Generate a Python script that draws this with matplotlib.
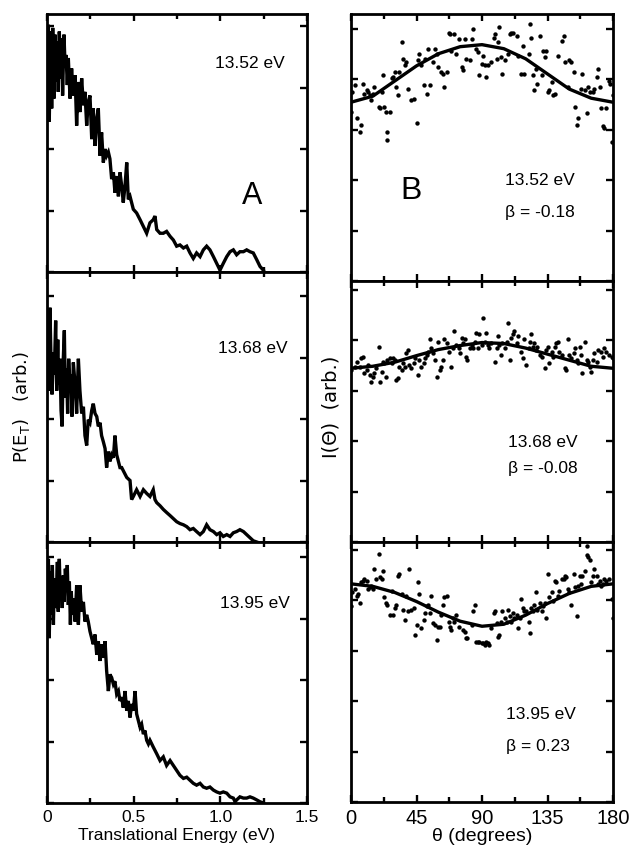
import matplotlib
matplotlib.use("Agg")
import matplotlib.pyplot as plt
from matplotlib.ticker import MultipleLocator, NullFormatter

OUT_PNG = "out.png"

NARROW = ["Liberation Sans", "DejaVu Sans"]

# ---- P(E_T) curves (translational energy in eV, arb. units) ----
e_1352 = [0.002, 0.008, 0.013, 0.021, 0.027, 0.033, 0.040, 0.046, 0.052, 0.060,
          0.065, 0.071, 0.079, 0.085, 0.090, 0.098, 0.104, 0.110, 0.117, 0.123,
          0.133, 0.142, 0.152, 0.162, 0.171, 0.181, 0.190, 0.200, 0.210, 0.219,
          0.229, 0.238, 0.248, 0.258, 0.267, 0.277, 0.287, 0.296, 0.306, 0.315,
          0.325, 0.335, 0.344, 0.354, 0.363, 0.373, 0.383, 0.392, 0.402, 0.412,
          0.421, 0.431, 0.440, 0.450, 0.460, 0.469, 0.479, 0.488, 0.498, 0.517,
          0.537, 0.556, 0.575, 0.594, 0.613, 0.623, 0.633, 0.652, 0.671, 0.690,
          0.710, 0.729, 0.748, 0.767, 0.787, 0.806, 0.825, 0.844, 0.863, 0.883,
          0.902, 0.921, 0.940, 0.960, 0.979, 0.998, 1.017, 1.037, 1.056, 1.075,
          1.094, 1.113, 1.133, 1.152, 1.171, 1.190, 1.210, 1.229, 1.248]
p_1352 = [3.04, 4.02, 2.44, 3.91, 2.66, 3.97, 2.82, 3.86, 3.09, 3.75,
          2.93, 3.91, 3.15, 3.80, 2.87, 3.86, 3.37, 3.53, 3.04, 3.48,
          2.82, 3.31, 2.87, 3.20, 2.38, 3.09, 2.60, 3.15, 2.71, 2.93,
          2.38, 2.77, 2.87, 2.16, 2.66, 2.05, 2.49, 2.66, 1.89, 2.27,
          1.78, 2.00, 1.89, 1.95, 1.84, 1.51, 1.62, 1.29, 1.56, 1.23,
          1.62, 1.40, 1.13, 1.40, 1.78, 1.18, 1.23, 1.13, 1.02, 0.96,
          0.85, 0.74, 0.63, 0.80, 0.85, 0.91, 0.69, 0.63, 0.63, 0.66,
          0.58, 0.52, 0.42, 0.44, 0.39, 0.42, 0.31, 0.22, 0.31, 0.25,
          0.36, 0.42, 0.36, 0.25, 0.14, 0.03, 0.14, 0.25, 0.33, 0.36,
          0.28, 0.33, 0.33, 0.36, 0.33, 0.31, 0.20, 0.09, 0.03]

e_1368 = [0.002, 0.008, 0.013, 0.017, 0.023, 0.029, 0.037, 0.042, 0.050, 0.056,
          0.062, 0.067, 0.075, 0.081, 0.087, 0.094, 0.100, 0.106, 0.113, 0.119,
          0.125, 0.133, 0.138, 0.144, 0.152, 0.162, 0.171, 0.181, 0.190, 0.200,
          0.210, 0.219, 0.229, 0.238, 0.248, 0.258, 0.267, 0.277, 0.287, 0.296,
          0.306, 0.315, 0.325, 0.335, 0.344, 0.354, 0.363, 0.373, 0.383, 0.392,
          0.402, 0.412, 0.421, 0.431, 0.440, 0.460, 0.479, 0.488, 0.498, 0.517,
          0.537, 0.556, 0.575, 0.594, 0.613, 0.623, 0.633, 0.652, 0.671, 0.690,
          0.710, 0.729, 0.748, 0.767, 0.787, 0.806, 0.825, 0.844, 0.863, 0.883,
          0.902, 0.921, 0.940, 0.960, 0.979, 0.998, 1.017, 1.037, 1.056, 1.075,
          1.094, 1.113, 1.133, 1.152, 1.171, 1.190, 1.210]
p_1368 = [3.29, 3.70, 2.46, 3.81, 2.98, 2.40, 3.08, 2.72, 3.60, 2.46,
          3.29, 2.56, 2.98, 2.14, 1.88, 2.98, 3.44, 2.35, 2.82, 2.09,
          2.98, 2.51, 2.72, 2.04, 2.92, 2.56, 2.09, 2.98, 2.46, 2.09,
          2.20, 1.73, 1.57, 1.99, 1.94, 2.14, 2.25, 2.09, 2.04, 1.88,
          1.94, 1.73, 1.63, 1.52, 1.21, 1.47, 1.31, 1.42, 1.37, 1.73,
          1.42, 1.31, 1.21, 1.21, 1.16, 1.05, 1.00, 0.69, 0.74, 0.85,
          0.74, 0.85, 0.79, 0.74, 0.85, 0.69, 0.64, 0.59, 0.53, 0.48,
          0.43, 0.38, 0.33, 0.30, 0.28, 0.25, 0.20, 0.22, 0.17, 0.12,
          0.17, 0.28, 0.20, 0.17, 0.12, 0.15, 0.09, 0.12, 0.09, 0.15,
          0.17, 0.20, 0.17, 0.12, 0.07, 0.02, 0.00]

e_1395 = [0.002, 0.008, 0.013, 0.019, 0.025, 0.031, 0.037, 0.042, 0.048, 0.054,
          0.060, 0.065, 0.071, 0.077, 0.083, 0.088, 0.094, 0.100, 0.106, 0.112,
          0.117, 0.123, 0.129, 0.135, 0.140, 0.146, 0.152, 0.162, 0.171, 0.181,
          0.190, 0.200, 0.210, 0.219, 0.229, 0.238, 0.248, 0.258, 0.267, 0.277,
          0.287, 0.296, 0.306, 0.315, 0.325, 0.335, 0.344, 0.354, 0.363, 0.373,
          0.383, 0.392, 0.402, 0.412, 0.421, 0.431, 0.440, 0.450, 0.460, 0.469,
          0.479, 0.488, 0.498, 0.508, 0.517, 0.527, 0.537, 0.546, 0.556, 0.565,
          0.575, 0.585, 0.594, 0.613, 0.633, 0.652, 0.671, 0.690, 0.710, 0.729,
          0.748, 0.767, 0.787, 0.806, 0.825, 0.844, 0.863, 0.883, 0.902, 0.921,
          0.940, 0.960, 0.979, 0.998, 1.017, 1.037, 1.056, 1.075, 1.085, 1.094,
          1.113, 1.133, 1.152, 1.171, 1.190, 1.210, 1.229, 1.248]
p_1395 = [3.17, 3.97, 2.68, 3.76, 3.06, 3.87, 2.90, 3.65, 3.17, 3.44,
          3.92, 3.11, 3.97, 3.33, 3.60, 3.17, 3.70, 3.27, 3.81, 3.44,
          3.87, 3.22, 3.60, 2.90, 3.44, 3.06, 3.33, 2.95, 3.54, 2.90,
          3.54, 3.11, 3.27, 2.95, 3.06, 2.95, 2.79, 2.68, 2.58, 2.74,
          2.41, 2.63, 2.31, 2.58, 2.36, 2.63, 2.15, 1.82, 2.09, 2.04,
          1.93, 1.98, 1.77, 1.82, 1.66, 1.72, 1.55, 1.82, 1.50, 1.66,
          1.39, 1.61, 1.50, 1.82, 1.45, 1.34, 1.23, 1.28, 1.12, 1.18,
          1.02, 0.96, 1.02, 0.91, 0.80, 0.69, 0.75, 0.61, 0.69, 0.61,
          0.53, 0.45, 0.40, 0.42, 0.37, 0.32, 0.29, 0.32, 0.26, 0.24,
          0.26, 0.21, 0.18, 0.16, 0.18, 0.16, 0.10, 0.08, 0.02, 0.05,
          0.10, 0.08, 0.08, 0.10, 0.08, 0.05, 0.02, 0.00]

# ---- angular distributions I(theta) ----
th_1352 = [0, 1, 3, 4, 6, 7, 8, 9, 11, 12, 13, 14, 15, 16, 19, 20, 21, 22, 23, 24,
           25, 25, 27, 28, 29, 30, 31, 32, 33, 35, 36, 37, 38, 39, 41, 43, 45, 46, 47, 48,
           50, 51, 52, 53, 54, 56, 58, 59, 60, 62, 63, 64, 66, 67, 68, 69, 71, 72, 74, 76,
           77, 78, 79, 82, 83, 84, 86, 87, 88, 90, 91, 92, 93, 94, 96, 98, 99, 100, 101, 102,
           103, 104, 106, 108, 109, 110, 111, 114, 115, 117, 118, 119, 122, 123, 124, 125, 126, 127, 128, 130,
           131, 132, 133, 134, 135, 136, 138, 139, 140, 142, 145, 146, 147, 149, 150, 151, 153, 154, 155, 156,
           158, 159, 161, 162, 163, 164, 166, 167, 169, 170, 171, 172, 173, 174, 175, 177, 178, 179, 180]
i_1352 = [3.35, 3.75, 3.88, 3.22, 2.96, 3.09, 3.91, 3.71, 3.78, 3.75, 3.68, 3.58, 3.71, 3.84, 3.45, 3.42, 3.75, 4.07, 3.45, 3.35,
          2.96, 2.80, 3.35, 4.01, 4.04, 4.14, 3.84, 3.68, 4.14, 4.73, 4.40, 4.27, 4.33, 3.81, 3.58, 3.61, 3.12, 4.37, 4.50, 4.27,
          3.88, 4.40, 3.71, 4.60, 3.88, 4.33, 4.60, 4.50, 4.24, 4.14, 4.10, 3.84, 4.14, 4.92, 4.89, 4.56, 4.89, 4.50, 4.79, 4.24,
          4.17, 4.79, 4.40, 4.37, 4.79, 4.99, 4.60, 4.53, 4.07, 4.30, 4.46, 4.27, 4.04, 4.27, 4.33, 4.82, 4.89, 4.40, 4.73, 5.02,
          4.43, 4.10, 4.37, 4.50, 4.89, 4.92, 4.92, 4.86, 4.46, 4.10, 4.66, 4.10, 4.50, 5.09, 4.82, 4.07, 3.78, 4.20, 3.91, 4.86,
          4.07, 4.56, 4.43, 4.56, 3.75, 3.78, 3.94, 3.68, 3.71, 4.46, 4.76, 4.86, 4.33, 3.84, 4.37, 4.33, 4.14, 3.45, 3.09, 3.22,
          3.81, 4.10, 3.78, 3.32, 3.84, 3.75, 3.75, 3.81, 4.04, 4.20, 3.84, 3.42, 3.06, 3.03, 3.42, 3.97, 3.91, 2.76, 3.68]

th_1368 = [0, 3, 4, 6, 7, 8, 9, 11, 12, 13, 14, 15, 16, 17, 19, 20, 21, 22, 23, 24,
           25, 27, 28, 29, 30, 31, 32, 33, 35, 36, 37, 38, 39, 40, 41, 43, 44, 46, 47, 48,
           50, 51, 52, 53, 54, 55, 56, 58, 59, 60, 61, 62, 63, 64, 66, 67, 69, 70, 71, 72,
           74, 75, 76, 77, 78, 79, 80, 82, 83, 84, 85, 86, 87, 88, 90, 91, 92, 93, 94, 95,
           96, 99, 100, 101, 102, 103, 104, 106, 107, 108, 109, 110, 111, 112, 114, 115, 117, 118, 119, 120,
           122, 123, 124, 125, 126, 127, 128, 130, 131, 133, 134, 135, 136, 138, 139, 140, 141, 142, 143, 145,
           147, 148, 149, 150, 151, 153, 154, 155, 156, 157, 158, 159, 161, 162, 163, 164, 165, 166, 167, 169,
           170, 172, 173, 174, 175, 177, 179, 180]
i_1368 = [3.41, 3.47, 3.57, 3.47, 3.64, 3.67, 3.34, 3.41, 3.51, 3.31, 3.17, 3.27, 3.34, 3.44, 3.87, 3.17, 3.37, 3.57, 3.54, 3.27,
          3.61, 3.64, 3.54, 3.64, 3.61, 3.21, 3.24, 3.47, 3.41, 3.54, 3.47, 3.74, 3.81, 3.51, 3.44, 3.54, 3.64, 3.31, 3.61, 3.47,
          3.54, 3.64, 3.71, 3.77, 4.01, 3.84, 3.74, 3.61, 3.27, 3.97, 3.41, 3.47, 3.61, 4.01, 3.94, 3.77, 3.47, 3.84, 4.17, 3.91,
          3.84, 3.74, 4.04, 3.94, 4.01, 3.67, 3.61, 3.84, 3.91, 3.84, 3.97, 4.14, 3.84, 4.11, 3.91, 4.44, 3.97, 4.14, 3.91, 3.84,
          3.94, 3.57, 3.84, 4.07, 3.91, 3.71, 3.94, 3.84, 3.97, 4.34, 3.61, 4.04, 4.11, 4.17, 3.94, 4.07, 3.77, 3.64, 4.01, 3.51,
          3.84, 3.97, 4.11, 3.87, 3.94, 3.81, 3.87, 3.71, 3.67, 3.44, 3.81, 3.87, 3.54, 3.77, 3.67, 3.87, 3.94, 3.97, 3.77, 3.71,
          3.44, 3.41, 4.01, 3.71, 3.64, 3.74, 3.84, 3.61, 3.54, 3.87, 3.71, 3.34, 3.97, 3.61, 3.57, 3.47, 3.37, 3.61, 3.74, 3.57,
          3.81, 3.77, 3.67, 3.84, 3.77, 3.71, 3.67, 3.64]

th_1395 = [0, 1, 3, 4, 5, 6, 7, 8, 9, 11, 12, 13, 14, 15, 16, 17, 19, 20, 21, 22,
           23, 24, 25, 27, 28, 29, 30, 31, 32, 33, 35, 36, 37, 38, 39, 40, 41, 43, 44, 45,
           46, 47, 48, 50, 51, 52, 53, 54, 55, 56, 58, 59, 60, 61, 62, 63, 64, 66, 67, 68,
           69, 70, 71, 72, 74, 77, 78, 79, 80, 83, 84, 85, 86, 87, 88, 90, 91, 92, 93, 94,
           95, 96, 98, 99, 100, 101, 102, 103, 104, 106, 107, 108, 109, 110, 111, 112, 114, 115, 116, 117,
           118, 119, 120, 122, 123, 124, 125, 126, 127, 128, 130, 131, 132, 133, 134, 135, 136, 138, 139, 140,
           141, 142, 143, 145, 146, 147, 148, 149, 150, 151, 153, 154, 155, 156, 157, 158, 159, 161, 162, 162,
           163, 164, 165, 166, 167, 169, 170, 171, 172, 173, 174, 175, 177, 179, 180]
i_1395 = [3.88, 4.15, 4.21, 4.08, 4.11, 3.95, 4.35, 4.38, 4.42, 4.38, 4.21, 4.25, 4.28, 4.21, 4.62, 4.42, 4.92, 4.45, 4.42, 4.58,
          4.05, 3.95, 3.91, 3.71, 4.18, 3.71, 3.85, 3.91, 4.48, 4.52, 4.11, 3.81, 3.61, 4.08, 3.78, 4.62, 3.81, 3.85, 3.31, 3.51,
          4.35, 4.11, 3.44, 3.61, 3.74, 3.88, 3.91, 3.74, 4.08, 3.54, 3.51, 3.20, 3.47, 3.47, 3.71, 3.91, 4.05, 4.08, 3.57, 3.47,
          3.41, 3.64, 3.57, 3.71, 3.47, 3.41, 3.37, 3.24, 3.24, 3.51, 3.78, 3.91, 3.17, 3.17, 3.17, 3.14, 3.14, 3.10, 3.17, 3.14,
          3.10, 3.44, 3.74, 3.78, 3.54, 3.27, 3.31, 3.57, 3.78, 3.64, 3.57, 3.81, 3.68, 3.57, 3.74, 3.64, 3.71, 3.44, 3.64, 4.01,
          3.85, 3.78, 3.78, 3.57, 3.34, 3.85, 3.78, 3.91, 4.15, 3.81, 3.95, 3.78, 3.88, 3.95, 3.64, 4.52, 4.05, 4.15, 3.98, 4.38,
          4.35, 4.08, 4.18, 4.42, 4.42, 4.48, 4.45, 4.21, 4.15, 3.91, 4.52, 4.25, 3.68, 4.28, 4.48, 4.32, 4.48, 4.58, 5.06, 4.89,
          4.85, 4.79, 4.35, 4.48, 4.62, 4.48, 4.32, 4.38, 4.28, 4.32, 4.42, 4.38, 4.42, 4.01, 3.64]

# fitted curves every 15 degrees
fit_theta = [0, 15, 30, 45, 60, 75, 90, 105, 120, 135, 150, 165, 180]
fit_1352 = [3.54, 3.66, 3.96, 4.26, 4.50, 4.64, 4.68, 4.60, 4.40, 4.10, 3.80, 3.62, 3.54]
fit_1368 = [3.44, 3.48, 3.56, 3.69, 3.81, 3.89, 3.95, 3.93, 3.84, 3.72, 3.60, 3.48, 3.44]
fit_1395 = [4.32, 4.27, 4.15, 3.97, 3.76, 3.58, 3.48, 3.52, 3.70, 3.93, 4.13, 4.27, 4.32]

energies = ["13.52 eV", "13.68 eV", "13.95 eV"]
betas = ["β = -0.18", "β = -0.08", "β = 0.23"]

W, H = 631, 859
left_rows = [(14, 272), (272, 542), (542, 803)]
right_rows = [(14, 281), (281, 542), (542, 802)]
LX0, LX1 = 47, 307
RX0, RX1 = 351, 613


def px_axes(x0, x1, y0, y1):
    return fig.add_axes([x0 / W, (H - y1) / H, (x1 - x0) / W, (y1 - y0) / H])


def style(ax):
    for s in ax.spines.values():
        s.set_linewidth(2.0)
    ax.tick_params(which="both", direction="in", top=True, right=True, width=1.7)
    ax.tick_params(which="major", length=5)
    ax.tick_params(which="minor", length=3.5)
    ax.yaxis.set_major_locator(MultipleLocator(1))
    ax.yaxis.set_major_formatter(NullFormatter())


fig = plt.figure(figsize=(W / 100, H / 100), dpi=100)

pe_sets = [(e_1352, p_1352), (e_1368, p_1368), (e_1395, p_1395)]
ang_sets = [(th_1352, i_1352, fit_1352), (th_1368, i_1368, fit_1368), (th_1395, i_1395, fit_1395)]
left_label_pos = [(0.78, 0.81), (0.79, 0.715), (0.80, 0.766)]
right_label_pos = [(0.588, 0.375, 0.258), (0.60, 0.383, 0.280), (0.59, 0.338, 0.215)]

for k in range(3):
    y0, y1 = left_rows[k]
    ax = px_axes(LX0, LX1, y0, y1)
    e, p = pe_sets[k]
    ax.plot(e, p, color="black", linewidth=2.4, solid_joinstyle="miter")
    ax.set_xlim(0, 1.5)
    ax.set_ylim(0, (y1 - y0) / 61.5)
    style(ax)
    ax.xaxis.set_major_locator(MultipleLocator(0.5))
    ax.xaxis.set_minor_locator(MultipleLocator(0.25))
    if k < 2:
        ax.xaxis.set_major_formatter(NullFormatter())
    else:
        ax.set_xticks([0, 0.5, 1.0, 1.5])
        ax.set_xticklabels(["0", "0.5", "1.0", "1.5"], family=NARROW, fontsize=12.5)
        ax.tick_params(axis="x", pad=5)
        ax.set_xlabel("Translational Energy (eV)", family=NARROW, fontsize=12.5, labelpad=2)
    tx, ty = left_label_pos[k]
    ax.text(tx, ty, energies[k], transform=ax.transAxes, ha="center", va="center",
            family=NARROW, fontsize=12.5)
    if k == 0:
        ax.text(0.79, 0.295, "A", transform=ax.transAxes, ha="center", va="center",
                family=NARROW, fontsize=22)

    y0, y1 = right_rows[k]
    ax = px_axes(RX0, RX1, y0, y1)
    th, ii, ff = ang_sets[k]
    ax.scatter(th, ii, s=10, color="black", linewidths=0, zorder=3)
    ax.plot(fit_theta, ff, color="black", linewidth=2.4, zorder=4)
    ax.set_xlim(0, 180)
    ax.set_ylim(0, (y1 - y0) / 50.5)
    style(ax)
    ax.xaxis.set_major_locator(MultipleLocator(45))
    ax.xaxis.set_minor_locator(MultipleLocator(22.5))
    if k < 2:
        ax.xaxis.set_major_formatter(NullFormatter())
    else:
        ax.set_xticks([0, 45, 90, 135, 180])
        ax.set_xticklabels(["0", "45", "90", "135", "180"], family=NARROW, fontsize=14.5)
        ax.tick_params(axis="x", pad=5)
        ax.set_xlabel("θ (degrees)", family=NARROW, fontsize=14, labelpad=0)
    tx, ty1, ty2 = right_label_pos[k]
    ax.text(tx, ty1, energies[k], transform=ax.transAxes, ha="left", va="center",
            family=NARROW, fontsize=12.5)
    ax.text(tx, ty2, betas[k], transform=ax.transAxes, ha="left", va="center",
            family=NARROW, fontsize=12.5)
    if k == 0:
        ax.text(0.229, 0.337, "B", transform=ax.transAxes, ha="center", va="center",
                family=NARROW, fontsize=23)

fig.text(22 / W, 1 - 407 / H, "P(E$_\\mathrm{T}$)   (arb.)", rotation=90,
         ha="center", va="center", fontsize=13)
fig.text(331 / W, 1 - 407 / H, "I(Θ)  (arb.)", rotation=90,
         ha="center", va="center", fontsize=14)

fig.savefig(OUT_PNG, dpi=100)
plt.close(fig)
print(f"Saved: {OUT_PNG}")
